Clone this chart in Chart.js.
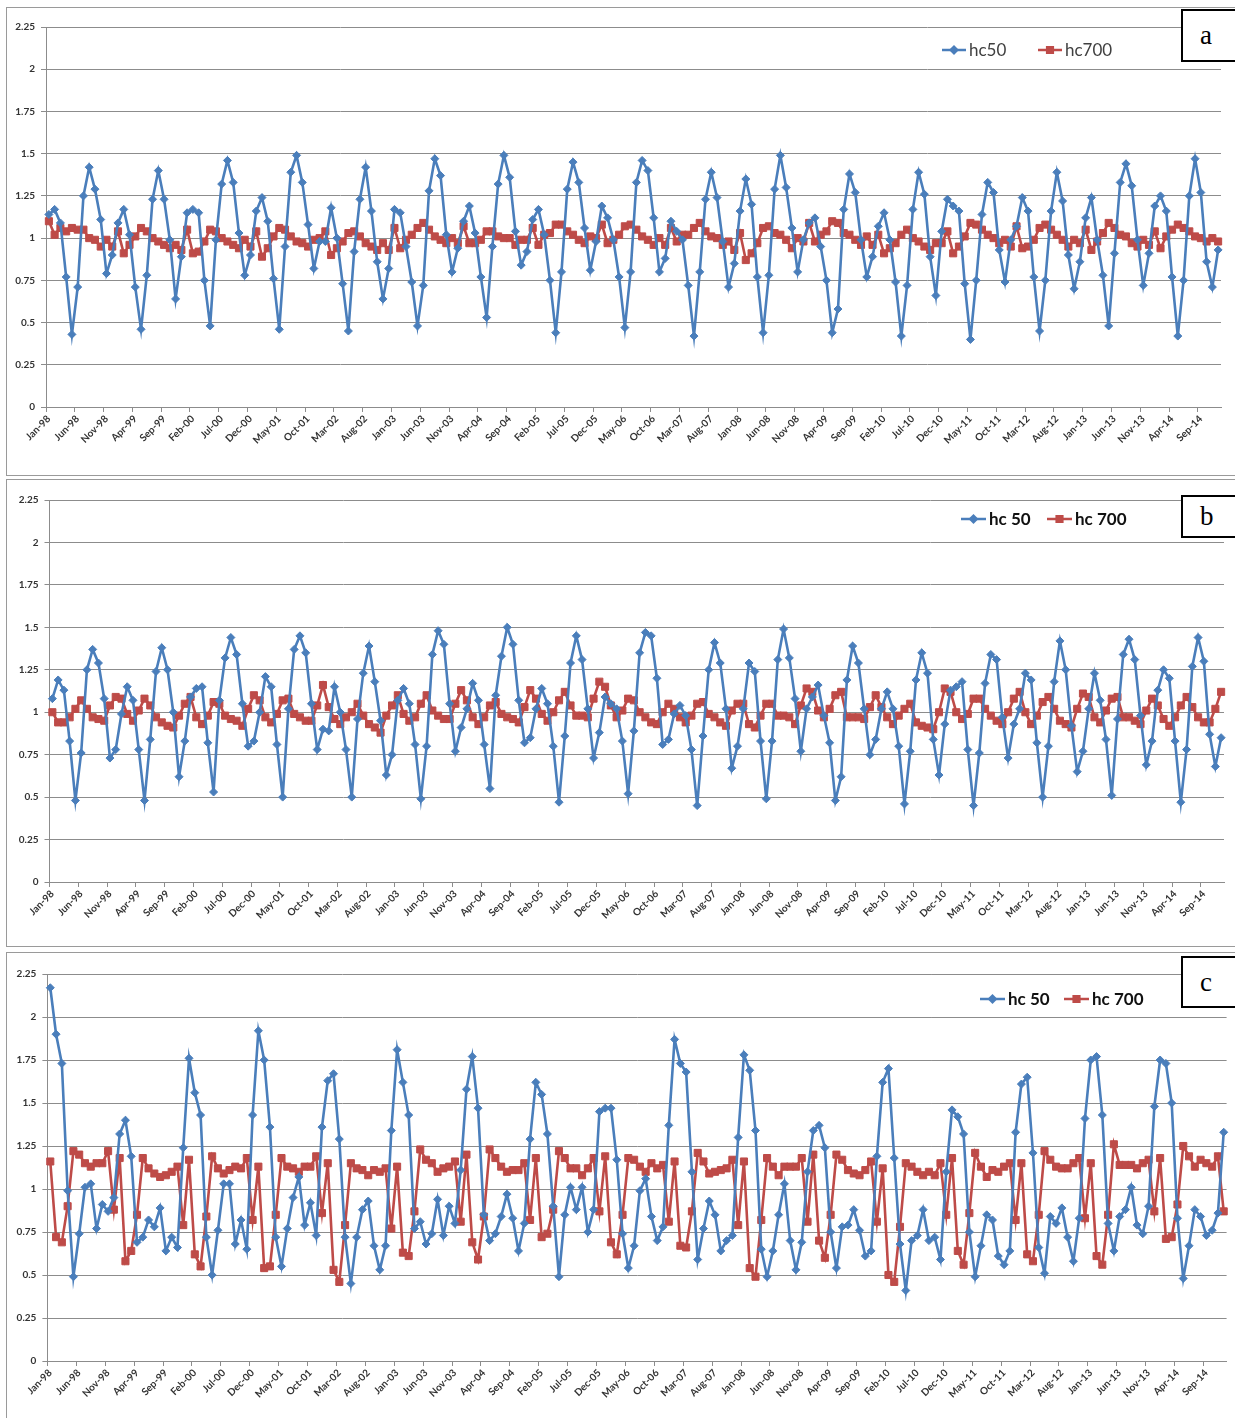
<!DOCTYPE html>
<html><head><meta charset="utf-8">
<script src="https://cdn.jsdelivr.net/npm/chart.js@4.4.1/dist/chart.umd.min.js"></script>
<style>
html,body{margin:0;padding:0;background:#fff;}
body{width:1235px;height:1418px;position:relative;overflow:hidden;}
.panel{position:absolute;left:6px;width:1260px;border:1px solid #9a9a9a;box-sizing:border-box;}
canvas{position:absolute;left:0;}
.tag{position:absolute;left:1181px;width:80px;border:2px solid #000;box-sizing:border-box;background:#fff;font-family:"Liberation Serif","DejaVu Serif",serif;font-size:27px;padding-left:17px;}
</style></head>
<body>
<div class="panel" style="top:7px;height:469px"></div>
<div class="panel" style="top:479px;height:468px"></div>
<div class="panel" style="top:952px;height:470px"></div>
<canvas id="ca" width="1235" height="469" style="top:7px"></canvas>
<canvas id="cb" width="1235" height="468" style="top:479px"></canvas>
<canvas id="cc" width="1235" height="466" style="top:952px"></canvas>
<div class="tag" style="top:9px;height:53px;line-height:49px">a</div>
<div class="tag" style="top:495px;height:43px;line-height:39px">b</div>
<div class="tag" style="top:956px;height:52px;line-height:48px">c</div>
<script>
const monthNames = ['Jan','Feb','Mar','Apr','May','Jun','Jul','Aug','Sep','Oct','Nov','Dec'];
const years = ['98','99','00','01','02','03','04','05','06','07','08','09','10','11','12','13','14'];
const categories = [];
years.forEach(y => monthNames.forEach(m => categories.push(m + '-' + y)));

const tickLabels = ['Jan-98','Jun-98','Nov-98','Apr-99','Sep-99','Feb-00','Jul-00','Dec-00','May-01','Oct-01','Mar-02','Aug-02','Jan-03','Jun-03','Nov-03','Apr-04','Sep-04','Feb-05','Jul-05','Dec-05','May-06','Oct-06','Mar-07','Aug-07','Jan-08','Jun-08','Nov-08','Apr-09','Sep-09','Feb-10','Jul-10','Dec-10','May-11','Oct-11','Mar-12','Aug-12','Jan-13','Jun-13','Nov-13','Apr-14','Sep-14'];
const yTicks = [0,0.25,0.5,0.75,1,1.25,1.5,1.75,2,2.25];

const a_hc50 = [1.14,1.17,1.09,0.77,0.43,0.71,1.25,1.42,1.29,1.11,
0.79,0.90,1.09,1.17,1.02,0.71,0.46,0.78,1.23,1.40,
1.23,0.99,0.64,0.89,1.15,1.17,1.15,0.75,0.48,0.99,
1.32,1.46,1.33,1.03,0.78,0.90,1.16,1.24,1.10,0.76,
0.46,0.95,1.39,1.49,1.33,1.08,0.82,0.98,0.98,1.18,
1.00,0.73,0.45,0.92,1.23,1.42,1.16,0.86,0.64,0.82,
1.17,1.15,0.95,0.74,0.48,0.72,1.28,1.47,1.37,1.02,
0.80,0.94,1.10,1.19,1.03,0.77,0.53,0.95,1.32,1.49,
1.36,1.04,0.84,0.92,1.11,1.17,1.02,0.75,0.44,0.80,
1.29,1.45,1.33,1.06,0.81,0.98,1.19,1.12,0.99,0.77,
0.47,0.80,1.33,1.46,1.40,1.12,0.80,0.88,1.10,1.04,
0.99,0.72,0.42,0.80,1.23,1.39,1.24,0.98,0.71,0.85,
1.16,1.35,1.20,0.77,0.44,0.78,1.29,1.49,1.30,1.06,
0.80,0.99,1.09,1.12,0.95,0.75,0.44,0.58,1.17,1.38,
1.27,0.99,0.77,0.89,1.07,1.15,0.99,0.74,0.42,0.72,
1.17,1.39,1.26,0.89,0.66,1.04,1.23,1.19,1.16,0.73,
0.40,0.75,1.14,1.33,1.27,0.93,0.74,0.99,1.07,1.24,
1.16,0.77,0.45,0.75,1.16,1.39,1.22,0.90,0.70,0.86,
1.12,1.24,0.99,0.78,0.48,0.91,1.33,1.44,1.31,0.99,
0.72,0.91,1.19,1.25,1.16,0.77,0.42,0.75,1.25,1.47,
1.27,0.86,0.71,0.93];
const a_hc700 = [1.10,1.02,1.06,1.04,1.06,1.05,1.05,1.00,0.99,0.95,
0.99,0.95,1.04,0.91,0.96,1.01,1.06,1.04,1.00,0.98,
0.96,0.94,0.96,0.93,1.05,0.91,0.92,0.98,1.05,1.04,
1.00,0.98,0.96,0.94,0.99,0.95,1.04,0.89,0.94,1.01,
1.06,1.05,1.01,0.98,0.97,0.95,0.99,1.00,1.04,0.90,
0.94,0.98,1.03,1.04,1.01,0.97,0.95,0.93,0.97,0.93,
1.06,0.94,0.99,1.02,1.06,1.09,1.05,1.01,0.99,0.97,
1.00,0.97,1.07,0.97,0.97,0.99,1.04,1.04,1.01,1.00,
1.00,0.96,0.99,0.99,1.06,0.96,1.02,1.03,1.08,1.08,
1.04,1.02,0.99,0.97,1.01,1.00,1.08,0.97,0.99,1.02,
1.07,1.08,1.05,1.01,0.99,0.96,1.00,0.96,1.06,0.98,
1.02,1.02,1.06,1.09,1.04,1.01,1.00,0.96,0.98,0.93,
1.03,0.87,0.91,0.97,1.06,1.07,1.03,1.02,0.99,0.94,
1.00,0.98,1.09,0.98,1.02,1.04,1.10,1.09,1.03,1.02,
0.99,0.96,1.01,0.96,1.02,0.91,0.94,0.97,1.02,1.05,
1.00,0.98,0.95,0.93,0.97,0.97,1.04,0.91,0.95,1.01,
1.09,1.08,1.05,1.02,1.00,0.97,0.99,0.95,1.07,0.94,
0.95,0.99,1.06,1.08,1.05,1.02,0.99,0.95,0.99,0.97,
1.05,0.93,0.98,1.03,1.09,1.06,1.02,1.01,0.97,0.95,
0.99,0.96,1.04,0.94,1.01,1.05,1.08,1.06,1.04,1.01,
1.00,0.98,1.00,0.98];

const b_hc50 = [1.08,1.19,1.13,0.83,0.48,0.76,1.25,1.37,1.29,1.08,
0.73,0.78,0.99,1.15,1.07,0.78,0.48,0.84,1.24,1.38,
1.25,1.00,0.62,0.83,1.09,1.14,1.15,0.82,0.53,1.07,
1.32,1.44,1.34,1.05,0.80,0.83,1.00,1.21,1.15,0.81,
0.50,1.02,1.37,1.45,1.35,1.05,0.78,0.90,0.89,1.15,
1.00,0.78,0.50,0.96,1.23,1.39,1.18,0.95,0.63,0.75,
1.07,1.14,1.05,0.81,0.49,0.80,1.34,1.48,1.40,1.05,
0.77,0.91,1.02,1.17,1.07,0.81,0.55,1.10,1.33,1.50,
1.40,1.07,0.82,0.85,1.02,1.14,1.05,0.80,0.47,0.86,
1.29,1.45,1.31,1.02,0.73,0.88,1.09,1.05,1.02,0.83,
0.52,0.89,1.35,1.47,1.45,1.20,0.81,0.84,0.99,1.04,
0.98,0.78,0.45,0.86,1.25,1.41,1.29,1.02,0.67,0.80,
1.02,1.29,1.24,0.83,0.49,0.83,1.31,1.49,1.32,1.08,
0.77,1.02,1.09,1.16,0.98,0.82,0.48,0.62,1.19,1.39,
1.29,1.02,0.75,0.84,1.02,1.12,1.02,0.80,0.46,0.77,
1.19,1.35,1.23,0.84,0.63,0.93,1.13,1.15,1.18,0.78,
0.45,0.76,1.17,1.34,1.31,0.97,0.73,0.93,1.02,1.23,
1.19,0.82,0.50,0.80,1.18,1.42,1.25,0.92,0.65,0.77,
1.02,1.23,1.07,0.84,0.51,0.96,1.34,1.43,1.31,0.98,
0.69,0.83,1.13,1.25,1.20,0.83,0.47,0.78,1.27,1.44,
1.30,0.87,0.68,0.85];
const b_hc700 = [1.00,0.94,0.94,0.97,1.02,1.07,1.02,0.97,0.96,0.95,
1.04,1.09,1.08,0.99,0.95,1.01,1.08,1.04,0.97,0.94,
0.92,0.91,0.98,1.05,1.09,0.97,0.93,0.98,1.06,1.05,
0.98,0.96,0.95,0.92,1.02,1.10,1.07,0.97,0.94,0.99,
1.07,1.08,0.99,0.97,0.95,0.95,1.04,1.16,1.03,0.96,
0.93,0.97,1.00,1.05,0.98,0.93,0.91,0.88,0.98,1.04,
1.10,0.99,0.95,0.97,1.05,1.10,1.01,0.98,0.96,0.96,
1.05,1.13,1.07,0.97,0.93,0.97,1.04,1.06,0.99,0.97,
0.96,0.94,1.03,1.13,1.08,0.99,0.95,1.00,1.07,1.12,
1.04,0.98,0.98,0.97,1.08,1.18,1.15,1.04,0.97,1.01,
1.08,1.07,1.00,0.97,0.94,0.93,1.00,1.05,1.02,0.97,
0.94,0.98,1.05,1.06,0.99,0.97,0.94,0.92,1.01,1.05,
1.05,0.93,0.91,0.98,1.05,1.05,0.98,0.98,0.97,0.93,
1.04,1.14,1.12,1.01,0.97,1.02,1.10,1.12,0.97,0.97,
0.97,0.96,1.03,1.10,1.03,0.97,0.93,0.98,1.02,1.05,
0.94,0.92,0.91,0.90,1.00,1.14,1.12,1.00,0.96,0.99,
1.08,1.08,1.02,0.98,0.95,0.93,1.00,1.08,1.12,1.00,
0.93,0.98,1.06,1.09,1.02,0.95,0.93,0.91,1.02,1.11,
1.09,0.97,0.94,1.01,1.08,1.09,0.97,0.97,0.95,0.93,
1.01,1.08,1.04,0.96,0.92,0.97,1.04,1.09,1.03,0.97,
0.94,0.94,1.02,1.12];

const c_hc50 = [2.17,1.90,1.73,0.99,0.49,0.74,1.01,1.03,0.77,0.91,
0.87,0.95,1.32,1.40,1.19,0.69,0.72,0.82,0.78,0.89,
0.64,0.72,0.66,1.24,1.76,1.56,1.43,0.72,0.50,0.76,
1.03,1.03,0.68,0.82,0.65,1.43,1.92,1.75,1.36,0.72,
0.55,0.77,0.95,1.07,0.79,0.92,0.73,1.36,1.63,1.67,
1.29,0.72,0.45,0.72,0.88,0.93,0.67,0.53,0.67,1.34,
1.81,1.62,1.43,0.77,0.81,0.68,0.74,0.94,0.73,0.90,
0.80,1.11,1.58,1.77,1.47,0.85,0.70,0.74,0.84,0.97,
0.83,0.64,0.80,1.29,1.62,1.55,1.32,0.90,0.49,0.85,
1.01,0.88,1.01,0.75,0.88,1.45,1.47,1.47,1.17,0.74,
0.54,0.67,0.99,1.06,0.84,0.70,0.78,1.37,1.87,1.73,
1.68,1.10,0.59,0.77,0.93,0.85,0.64,0.70,0.73,1.30,
1.78,1.69,1.34,0.65,0.49,0.64,0.85,1.03,0.70,0.53,
0.69,1.10,1.34,1.37,1.24,0.75,0.54,0.78,0.79,0.88,
0.76,0.61,0.64,1.19,1.62,1.70,1.18,0.68,0.41,0.70,
0.73,0.88,0.70,0.72,0.59,1.10,1.46,1.42,1.32,0.75,
0.49,0.67,0.85,0.82,0.61,0.56,0.64,1.33,1.61,1.65,
1.21,0.66,0.51,0.84,0.80,0.89,0.72,0.58,0.83,1.41,
1.75,1.77,1.43,0.80,0.64,0.84,0.88,1.01,0.79,0.74,
0.90,1.48,1.75,1.73,1.50,0.83,0.48,0.67,0.88,0.84,
0.73,0.76,0.86,1.33];
const c_hc700 = [1.16,0.72,0.69,0.90,1.22,1.20,1.15,1.13,1.15,1.15,
1.22,0.88,1.18,0.58,0.64,0.85,1.18,1.12,1.09,1.07,
1.08,1.10,1.13,0.79,1.17,0.62,0.55,0.84,1.19,1.12,
1.09,1.11,1.13,1.12,1.18,0.82,1.13,0.54,0.55,0.85,
1.18,1.13,1.12,1.10,1.13,1.13,1.19,0.86,1.15,0.53,
0.46,0.79,1.15,1.12,1.11,1.08,1.11,1.10,1.12,0.77,
1.13,0.63,0.61,0.87,1.23,1.17,1.15,1.10,1.12,1.13,
1.16,0.81,1.20,0.69,0.59,0.84,1.23,1.18,1.13,1.10,
1.11,1.11,1.15,0.82,1.18,0.72,0.74,0.88,1.22,1.18,
1.12,1.12,1.08,1.12,1.18,0.87,1.19,0.69,0.62,0.85,
1.18,1.17,1.13,1.10,1.15,1.12,1.14,0.81,1.16,0.67,
0.66,0.87,1.21,1.16,1.09,1.10,1.11,1.12,1.17,0.79,
1.16,0.54,0.49,0.82,1.18,1.13,1.08,1.13,1.13,1.13,
1.18,0.81,1.20,0.70,0.60,0.85,1.20,1.17,1.11,1.09,
1.08,1.11,1.16,0.81,1.12,0.50,0.46,0.78,1.15,1.13,
1.10,1.08,1.10,1.08,1.15,0.85,1.18,0.64,0.56,0.86,
1.21,1.13,1.07,1.11,1.10,1.13,1.15,0.82,1.15,0.62,
0.58,0.85,1.22,1.17,1.13,1.12,1.12,1.15,1.18,0.83,
1.15,0.61,0.56,0.85,1.26,1.14,1.14,1.14,1.12,1.15,
1.17,0.87,1.18,0.71,0.72,0.91,1.25,1.19,1.13,1.17,
1.15,1.13,1.19,0.87];

const BLUE = '#4a7ebb';
const RED = '#be4b48';
const GRID = '#8c8c8c';
const TICKTXT = '#333333';

const excelLegend = {
  id: 'excelLegend',
  afterDraw(chart, args, opts) {
    const ctx = chart.ctx;
    ctx.save();
    chart.data.datasets.forEach((ds, i) => {
      const x = opts.xs[i], y = opts.y;
      ctx.strokeStyle = ds.borderColor;
      ctx.lineWidth = 2.5;
      ctx.beginPath(); ctx.moveTo(x, y); ctx.lineTo(x + opts.lineLen, y); ctx.stroke();
      ctx.fillStyle = ds.backgroundColor;
      ctx.strokeStyle = ds.borderColor;
      Chart.helpers.drawPoint(ctx, {pointStyle: ds.pointStyle, radius: ds.pointRadius * 0.8, borderWidth: 1}, x + opts.lineLen / 2, y);
      ctx.fillStyle = opts.color;
      ctx.font = opts.font;
      ctx.textBaseline = 'middle';
      ctx.textAlign = 'left';
      ctx.fillText(ds.label, x + opts.lineLen + opts.gap, y + 1);
    });
    ctx.restore();
  }
};

function makeChart(id, s1, s2, names, cfg) {
  new Chart(document.getElementById(id), {
    type: 'line',
    data: {
      labels: categories,
      datasets: [
        {label: names[0], data: s1, borderColor: BLUE, backgroundColor: BLUE, borderWidth: 2.6,
         pointStyle: 'rectRot', pointRadius: 4, pointBorderWidth: 1, tension: 0},
        {label: names[1], data: s2, borderColor: RED, backgroundColor: RED, borderWidth: 2.6,
         pointStyle: 'rect', pointRadius: 5, pointBorderWidth: 1, tension: 0}
      ]
    },
    options: {
      responsive: false,
      animation: false,
      devicePixelRatio: 1,
      layout: {padding: {top: cfg.top, right: cfg.right, bottom: 0, left: 0}},
      plugins: {
        legend: {display: false},
        tooltip: {enabled: false},
        excelLegend: cfg.legend
      },
      scales: {
        x: {
          type: 'category',
          offset: true,
          afterFit: (s) => { s.height = cfg.xh; },
          grid: {
            offset: true,
            drawOnChartArea: false,
            drawTicks: true,
            tickLength: 5,
            color: (c) => (c.index !== undefined && c.index % 5 === 0) ? GRID : 'rgba(0,0,0,0)'
          },
          border: {display: true, color: GRID, width: 1},
          ticks: {
            autoSkip: false,
            maxRotation: 45,
            minRotation: 45,
            padding: 1,
            color: TICKTXT,
            font: {family: 'Lato, "Open Sans", sans-serif', size: 10, weight: 'bold'},
            callback: (v, idx) => idx % 5 === 0 ? tickLabels[idx / 5] : ''
          }
        },
        y: {
          min: 0, max: 2.25,
          afterFit: (s) => { s.width = cfg.yw; },
          afterBuildTicks: (s) => { s.ticks = yTicks.map(v => ({value: v})); },
          grid: {color: GRID, lineWidth: 1, tickLength: 5},
          border: {display: true, color: GRID, width: 1},
          ticks: {
            padding: 6,
            color: TICKTXT,
            font: {family: 'Lato, "Open Sans", sans-serif', size: 10, weight: 'bold'},
            callback: (v) => String(Number(Number(v).toFixed(2)))
          }
        }
      }
    },
    plugins: [excelLegend]
  });
}

makeChart('ca', a_hc50, a_hc700, ['hc50', 'hc700'], {
  top: 20, right: 14, xh: 69, yw: 46,
  legend: {xs: [942, 1038], y: 43, lineLen: 24, gap: 3, color: '#404040', font: '17px Lato, "Open Sans", sans-serif'}
});
makeChart('cb', b_hc50, b_hc700, ['hc 50', 'hc 700'], {
  top: 21, right: 11, xh: 65, yw: 49.5,
  legend: {xs: [961, 1047], y: 40, lineLen: 25, gap: 3, color: '#111111', font: 'bold 17px Lato, "Open Sans", sans-serif'}
});
makeChart('cc', c_hc50, c_hc700, ['hc 50', 'hc 700'], {
  top: 22, right: 8.4, xh: 57, yw: 47.4,
  legend: {xs: [980, 1064], y: 47, lineLen: 25, gap: 3, color: '#111111', font: 'bold 17px Lato, "Open Sans", sans-serif'}
});
</script>
</body></html>
